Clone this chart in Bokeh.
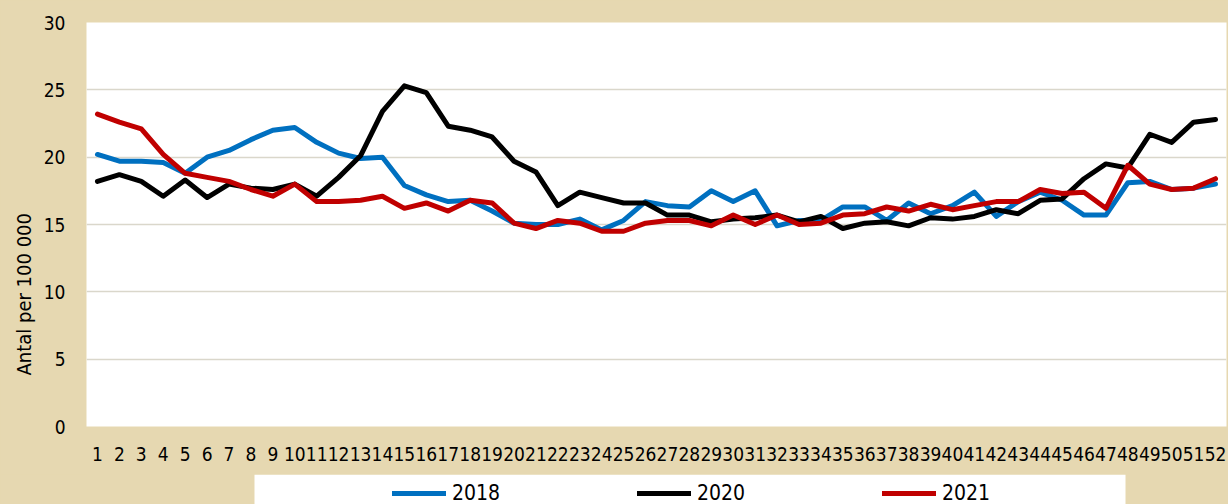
from bokeh.plotting import figure
from bokeh.layouts import column
from bokeh.models import Range1d, FixedTicker, Legend, LegendItem, Title
from bokeh.embed import file_html
from bokeh.resources import INLINE

weeks = [1, 2, 3, 4, 5, 6, 7, 8, 9, 10, 11, 12, 13, 14, 15, 16, 17, 18, 19, 20,
         21, 22, 23, 24, 25, 26, 27, 28, 29, 30, 31, 32, 33, 34, 35, 36, 37, 38, 39, 40,
         41, 42, 43, 44, 45, 46, 47, 48, 49, 50, 51, 52]

y2018 = [20.2, 19.7, 19.7, 19.6, 18.8, 20.0, 20.5, 21.3, 22.0, 22.2,
         21.1, 20.3, 19.9, 20.0, 17.9, 17.2, 16.7, 16.8, 16.0, 15.1,
         15.0, 15.0, 15.4, 14.6, 15.3, 16.7, 16.4, 16.3, 17.5, 16.7,
         17.5, 14.9, 15.3, 15.3, 16.3, 16.3, 15.3, 16.6, 15.8, 16.4,
         17.4, 15.6, 16.7, 17.4, 16.8, 15.7, 15.7, 18.1, 18.2, 17.6,
         17.7, 18.0]

y2020 = [18.2, 18.7, 18.2, 17.1, 18.3, 17.0, 18.0, 17.7, 17.6, 18.0,
         17.1, 18.5, 20.1, 23.4, 25.3, 24.8, 22.3, 22.0, 21.5, 19.7,
         18.9, 16.4, 17.4, 17.0, 16.6, 16.6, 15.7, 15.7, 15.2, 15.4,
         15.5, 15.7, 15.2, 15.6, 14.7, 15.1, 15.2, 14.9, 15.5, 15.4,
         15.6, 16.1, 15.8, 16.8, 16.9, 18.4, 19.5, 19.2, 21.7, 21.1,
         22.6, 22.8]

y2021 = [23.2, 22.6, 22.1, 20.2, 18.8, 18.5, 18.2, 17.6, 17.1, 18.0,
         16.7, 16.7, 16.8, 17.1, 16.2, 16.6, 16.0, 16.8, 16.6, 15.1,
         14.7, 15.3, 15.1, 14.5, 14.5, 15.1, 15.3, 15.3, 14.9, 15.7,
         15.0, 15.7, 15.0, 15.1, 15.7, 15.8, 16.3, 16.0, 16.5, 16.1,
         16.4, 16.7, 16.7, 17.6, 17.3, 17.4, 16.2, 19.4, 18.0, 17.6,
         17.7, 18.4]

y_ticks = [0, 5, 10, 15, 20, 25, 30]
series_names = ["2018", "2020", "2021"]
series_colors = ["#0070C0", "#000000", "#C00000"]
y_title = "Antal per 100 000"

FONT = "DejaVu Sans Condensed"
BG = "#E6D8B1"
LW = 5

# ---------------- main chart ----------------
p = figure(width=1228, height=474, output_backend="svg", toolbar_location=None,
           x_range=Range1d(0.5, 52.5), y_range=Range1d(0, 30),
           min_border_left=86, min_border_right=2, min_border_top=22,
           min_border_bottom=48)
p.border_fill_color = BG
p.background_fill_color = "white"
p.outline_line_color = None

p.yaxis.ticker = FixedTicker(ticks=y_ticks)
p.xaxis.ticker = FixedTicker(ticks=weeks)
for ax in (p.xaxis, p.yaxis):
    ax.axis_line_color = None
    ax.major_tick_line_color = None
    ax.major_tick_out = 0
    ax.major_tick_in = 0
    ax.minor_tick_line_color = None
    ax.major_label_text_font = FONT
    ax.major_label_text_font_size = "19px"
    ax.major_label_text_color = "black"
p.yaxis.major_label_standoff = 21
p.xaxis.major_label_standoff = 20

p.xgrid.grid_line_color = None
p.ygrid.grid_line_color = "#DAD7CB"
p.ygrid.grid_line_width = 1.5

for name, ys, col in zip(series_names, [y2018, y2020, y2021], series_colors):
    p.line(weeks, ys, line_width=LW, color=col,
           line_join="round", line_cap="round")

ytitle = Title(text=y_title, align="left", offset=51, text_font=FONT,
               text_font_size="20px", text_font_style="normal",
               text_color="black", standoff=9)
p.add_layout(ytitle, "left")

# ---------------- legend strip ----------------
leg = figure(width=1228, height=30, output_backend="svg", toolbar_location=None,
             x_range=Range1d(0, 1140), y_range=Range1d(0, 30),
             x_axis_type=None, y_axis_type=None,
             min_border_left=86, min_border_right=2, min_border_top=0,
             min_border_bottom=0)
leg.border_fill_color = BG
leg.background_fill_color = BG
leg.outline_line_color = None
leg.grid.visible = False

# white legend box
leg.quad(left=168, right=1039, bottom=0, top=30, fill_color="white", line_color=None)

items = []
for name, col in zip(series_names, series_colors):
    r = leg.line([0], [float("nan")], line_width=LW, color=col, line_cap="round")
    items.append(LegendItem(label=name, renderers=[r]))

legend = Legend(items=items, location=(306, -1), orientation="horizontal",
                padding=0, margin=0, spacing=125, glyph_width=54, glyph_height=16,
                label_height=16, label_standoff=6, label_width=60,
                label_text_font=FONT, label_text_font_size="21px",
                label_text_color="black",
                background_fill_alpha=0, border_line_alpha=0)
leg.add_layout(legend)

page = column(p, leg, spacing=0, styles={"background-color": BG})
open("out.html", "w").write(file_html(page, INLINE))
